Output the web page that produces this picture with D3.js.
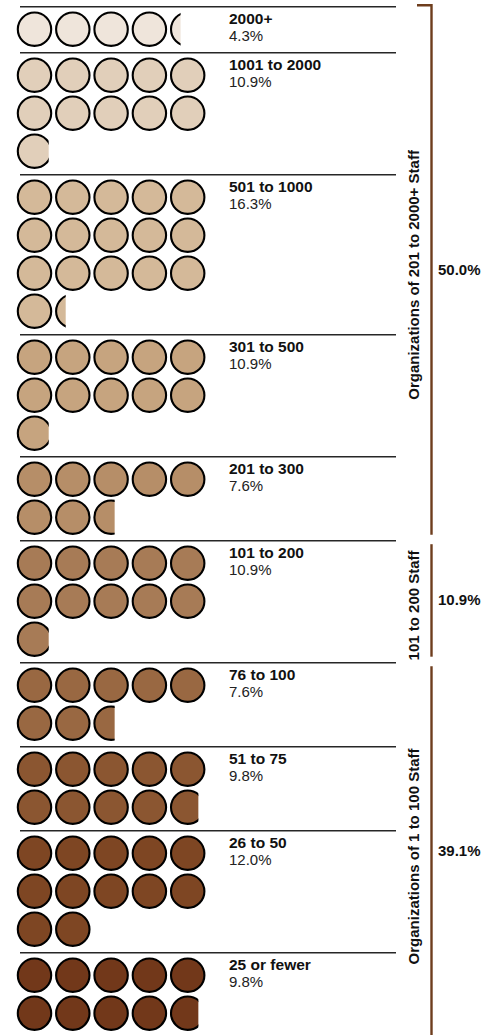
<!DOCTYPE html>
<html>
<head>
<meta charset="utf-8">
<script src="https://cdn.jsdelivr.net/npm/d3@7"></script>
<style>
  html, body { margin: 0; padding: 0; background: #fff; }
  svg { display: block; font-family: "Liberation Sans", Arial, Helvetica, sans-serif; }
</style>
</head>
<body>
<svg id="chart" width="491" height="1035"></svg>
<script>
// Share of organisations by staff size (percent); one circle = 1%
const categories = ["2000+", "1001 to 2000", "501 to 1000", "301 to 500", "201 to 300",
                    "101 to 200", "76 to 100", "51 to 75", "26 to 50", "25 or fewer"];
const shares = [4.3, 10.9, 16.3, 10.9, 7.6, 10.9, 7.6, 9.8, 12.0, 9.8];

// Bracketed size bands and their combined share
const bandLabels = ["Organizations of 201 to 2000+ Staff", "101 to 200 Staff", "Organizations of 1 to 100 Staff"];
const bandShares = [50.0, 10.9, 39.1];
const bandFirst = [0, 5, 6];
const bandLast = [4, 5, 9];

// Fill colours, lightest (largest organisations) to darkest
const palette = ["#efe5db", "#e1cfba", "#d4b999", "#c6a47f", "#b68e68",
                 "#a77b56", "#996842", "#8b5631", "#7e4623", "#72381a"];

const svg = d3.select("#chart");
const W = 491, H = 1035;

const perRow = 5, rowStep = 38, colStep = 38.3, blockGap = 8, topY = 6.7;
const r = 16.7, sw = 2.1, rOuter = r + sw / 2;

const rowsOf = shares.map(s => Math.ceil(Math.ceil(s) / perRow));
const blockTop = [];
let acc = topY;
rowsOf.forEach(n => { blockTop.push(acc); acc += n * rowStep + blockGap; });
const blockBottom = blockTop.map((t, i) => t + rowsOf[i] * rowStep + blockGap);

const x = d3.scaleLinear().domain([0, perRow - 1]).range([34.5, 34.5 + (perRow - 1) * colStep]);
const rowY = d3.scaleLinear().domain([0, 1]).range([22.5, 22.5 + rowStep]);
const color = d3.scaleOrdinal().domain(categories).range(palette);

const defs = svg.append("defs");

// One entry per circle, with the filled fraction of the last one
const dots = [];
shares.forEach((s, gi) => {
  const n = Math.ceil(s - 1e-9);
  for (let k = 0; k < n; k++) {
    const frac = Math.min(1, s - k);
    dots.push({ gi, k, frac, cx: x(k % perRow), cy: blockTop[gi] + rowY(Math.floor(k / perRow)) });
  }
});

// Separator rules above each size class
svg.append("g").selectAll("line").data(categories).join("line")
  .attr("x1", 20).attr("x2", 396)
  .attr("y1", (d, i) => blockTop[i]).attr("y2", (d, i) => blockTop[i])
  .attr("stroke", "#262626").attr("stroke-width", 1.4);

const dotG = svg.append("g");
dots.forEach((d, i) => {
  let clip = null;
  if (d.frac < 1) {
    const id = "clip" + i;
    defs.append("clipPath").attr("id", id).append("rect")
      .attr("x", d.cx - rOuter - 1).attr("y", d.cy - rOuter - 1)
      .attr("width", 1 + d.frac * 2 * rOuter).attr("height", 2 * rOuter + 2);
    clip = "url(#" + id + ")";
  }
  dotG.append("circle")
    .attr("cx", d.cx).attr("cy", d.cy).attr("r", r)
    .attr("fill", color(categories[d.gi]))
    .attr("stroke", "#000").attr("stroke-width", sw)
    .attr("clip-path", clip);
});

// Class names and percentages
const lab = svg.append("g");
lab.selectAll("text.name").data(categories).join("text")
  .attr("class", "name")
  .attr("x", 229).attr("y", (d, i) => blockTop[i] + 17)
  .attr("font-size", 15.5).attr("font-weight", "bold").attr("fill", "#111")
  .text(d => d);
lab.selectAll("text.pct").data(shares).join("text")
  .attr("class", "pct")
  .attr("x", 229).attr("y", (d, i) => blockTop[i] + 34.5)
  .attr("font-size", 15).attr("fill", "#222")
  .text(d => d.toFixed(1) + "%");

// Brackets on the right
const bx = 431.5, bColor = "#6e3d1d";
const bands = bandLabels.map((label, i) => {
  const y0 = i === 0 ? blockTop[bandFirst[i]] - 1.5 : blockTop[bandFirst[i]] + 3.5;
  const y1 = i === bandLabels.length - 1 ? Math.max(H, blockBottom[bandLast[i]]) : blockBottom[bandLast[i]] - 6;
  return { label, share: bandShares[i], y0, y1, i };
});
const bg = svg.append("g");
bands.forEach(b => {
  if (b.i === 0) {
    bg.append("path")
      .attr("d", `M417,${b.y0}H${bx}V${b.y1}`)
      .attr("fill", "none").attr("stroke", bColor).attr("stroke-width", 2.4);
  } else {
    bg.append("line").attr("x1", bx).attr("x2", bx).attr("y1", b.y0).attr("y2", b.y1)
      .attr("stroke", bColor).attr("stroke-width", 2.4);
  }
  const mid = (b.y0 + b.y1) / 2;
  bg.append("text")
    .attr("transform", `translate(419,${mid + 5}) rotate(-90)`)
    .attr("text-anchor", "middle")
    .attr("font-size", 15).attr("font-weight", "bold").attr("fill", "#111")
    .text(b.label);
  bg.append("text")
    .attr("x", 438).attr("y", mid + 5)
    .attr("font-size", 15).attr("font-weight", "bold").attr("fill", "#111")
    .text(b.share.toFixed(1) + "%");
});
</script>
</body>
</html>
